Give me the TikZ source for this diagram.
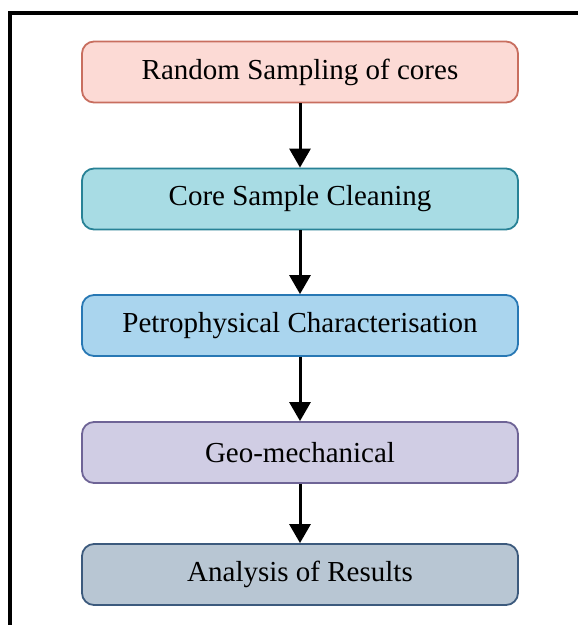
\documentclass[tikz,border=0pt]{standalone}
\usepackage{fontspec}
\setmainfont{Liberation Serif}
\usetikzlibrary{arrows.meta}
\definecolor{redfill}{RGB}{252,218,213}
\definecolor{redline}{RGB}{200,110,95}
\definecolor{tealfill}{RGB}{168,220,228}
\definecolor{tealline}{RGB}{40,130,150}
\definecolor{bluefill}{RGB}{170,213,238}
\definecolor{blueline}{RGB}{40,120,180}
\definecolor{lilacfill}{RGB}{208,205,228}
\definecolor{lilacline}{RGB}{110,100,150}
\definecolor{slatefill}{RGB}{184,198,211}
\definecolor{slateline}{RGB}{60,90,125}
\begin{document}
\begin{tikzpicture}[x=1pt, y=-1pt,
    stepbox/.style={draw, rounded corners=12pt, line width=1.8pt,
      minimum width=436pt, minimum height=61pt, inner sep=0pt,
      font=\fontsize{29}{34}\selectfont},
    flow/.style={line width=3pt, -{Triangle[length=19pt, width=21pt]}}]
        \clip (0, 0) rectangle (578, 625);
        \fill[white] (0, 0) rectangle (578, 625);
        \draw[line width=3.5pt] (10, 640) -- (10, 13) -- (600, 13);
        \node[stepbox, draw=redline, fill=redfill] (sampling) at (300, 72) {Random Sampling of cores};
        \node[stepbox, draw=tealline, fill=tealfill] (cleaning) at (300, 199) {Core Sample Cleaning};
        \node[stepbox, draw=blueline, fill=bluefill] (petro) at (300, 325.5) {Petrophysical Characterisation};
        \node[stepbox, draw=lilacline, fill=lilacfill] (geomech) at (300, 452.5) {Geo-mechanical};
        \node[stepbox, draw=slateline, fill=slatefill] (results) at (300, 574.5) {Analysis of Results};
        \draw[flow] (sampling) -- (cleaning);
        \draw[flow] (cleaning) -- (petro);
        \draw[flow] (petro) -- (geomech);
        \draw[flow] (geomech) -- (results);
      \end{tikzpicture}
\end{document}
